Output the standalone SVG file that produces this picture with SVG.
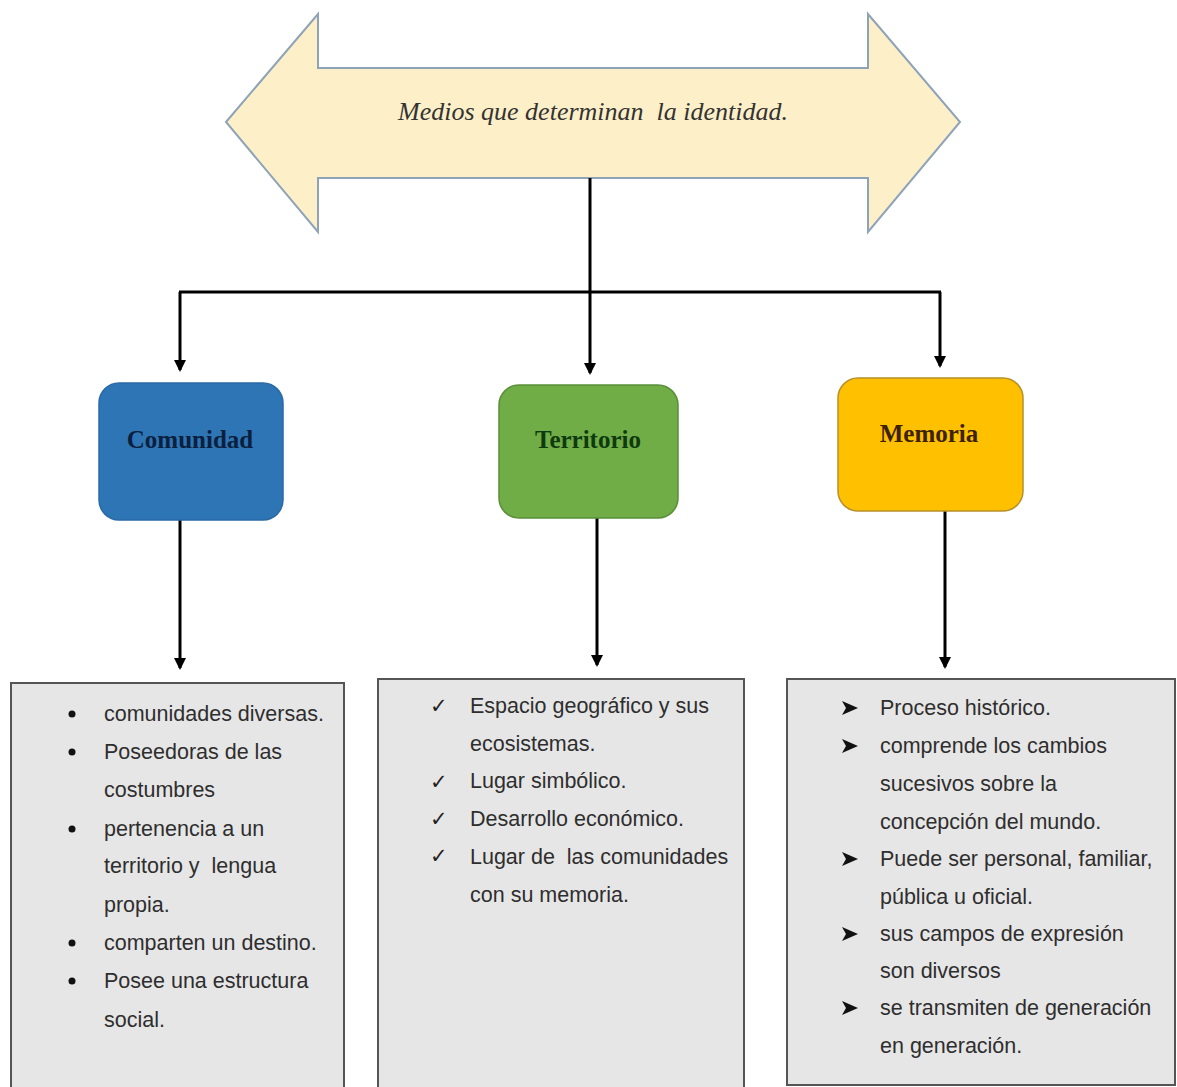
<svg xmlns="http://www.w3.org/2000/svg" width="1177" height="1087" viewBox="0 0 1177 1087">
<style>
.lst{font-family:"Liberation Sans",Arial,sans-serif;font-size:21.5px;fill:#2e2e2e;white-space:pre}
.hd{font-family:"Liberation Serif","Times New Roman",serif;font-weight:bold;font-size:25px;text-anchor:middle}
.box{fill:#e7e6e6;stroke:#555;stroke-width:2}
.con{stroke:#000;stroke-width:3;fill:none}
</style>
<defs>
<marker id="tri" markerWidth="12" markerHeight="12" refX="6" refY="10" orient="0" markerUnits="userSpaceOnUse" viewBox="0 0 12 12">
<path d="M0,0 L12,0 L6,12 Z" fill="#000"/>
</marker>
</defs>
<rect width="1177" height="1087" fill="#fff"/>
<g id="title">
<path d="M226,122 L318,14 L318,68 L868,68 L868,14 L960,122 L868,232 L868,178 L318,178 L318,232 Z" fill="#fdefc8" stroke="#8fa3b8" stroke-width="2"/>
<text x="593" y="120" text-anchor="middle" font-family="'Liberation Serif','Times New Roman',serif" font-style="italic" font-size="26" fill="#333" style="white-space:pre">Medios que determinan  la identidad.</text>
</g>
<g id="connectors">
<line class="con" x1="590" y1="178" x2="590" y2="292"/>
<line class="con" x1="179" y1="292" x2="941" y2="292"/>
<line class="con" x1="180" y1="292" x2="180" y2="370" marker-end="url(#tri)"/>
<line class="con" x1="590" y1="292" x2="590" y2="373" marker-end="url(#tri)"/>
<line class="con" x1="940" y1="292" x2="940" y2="366" marker-end="url(#tri)"/>
<line class="con" x1="180" y1="520" x2="180" y2="668" marker-end="url(#tri)"/>
<line class="con" x1="597" y1="518" x2="597" y2="665" marker-end="url(#tri)"/>
<line class="con" x1="945" y1="511" x2="945" y2="667" marker-end="url(#tri)"/>
</g>
<g id="comunidad">
<rect x="99" y="383" width="184" height="137" rx="20" fill="#2e75b6" stroke="#2a6aa6" stroke-width="1.5"/>
<text class="hd" x="190" y="448" fill="#0b1f3f">Comunidad</text>
</g>
<g id="territorio">
<rect x="499" y="385" width="179" height="133" rx="20" fill="#70ad47" stroke="#5a8f3a" stroke-width="1.5"/>
<text class="hd" x="588" y="448" fill="#0f3a0f">Territorio</text>
</g>
<g id="memoria">
<rect x="838" y="378" width="185" height="133" rx="20" fill="#ffc000" stroke="#b8902a" stroke-width="1.5"/>
<text class="hd" x="929" y="442" fill="#3d2200">Memoria</text>
</g>
<g id="lista-comunidad">
<rect class="box" x="11" y="683" width="333" height="410"/>
<g fill="#111">
<circle cx="72" cy="714" r="3.5"/><circle cx="72" cy="752" r="3.5"/><circle cx="72" cy="829" r="3.5"/><circle cx="72" cy="943" r="3.5"/><circle cx="72" cy="981" r="3.5"/>
</g>
<text class="lst" x="104" y="721">comunidades diversas.</text>
<text class="lst" x="104" y="759">Poseedoras de las</text>
<text class="lst" x="104" y="797">costumbres</text>
<text class="lst" x="104" y="836">pertenencia a un</text>
<text class="lst" x="104" y="873">territorio y  lengua</text>
<text class="lst" x="104" y="912">propia.</text>
<text class="lst" x="104" y="950">comparten un destino.</text>
<text class="lst" x="104" y="988">Posee una estructura</text>
<text class="lst" x="104" y="1027">social.</text>
</g>
<g id="lista-territorio">
<rect class="box" x="378" y="679" width="366" height="414"/>
<g font-family="'DejaVu Sans',sans-serif" font-size="21" fill="#222">
<text x="430" y="713">✓</text><text x="430" y="789">✓</text><text x="430" y="826">✓</text><text x="430" y="863">✓</text>
</g>
<text class="lst" x="470" y="713">Espacio geográfico y sus</text>
<text class="lst" x="470" y="751">ecosistemas.</text>
<text class="lst" x="470" y="788">Lugar simbólico.</text>
<text class="lst" x="470" y="826">Desarrollo económico.</text>
<text class="lst" x="470" y="864">Lugar de  las comunidades</text>
<text class="lst" x="470" y="902">con su memoria.</text>
</g>
<g id="lista-memoria">
<rect class="box" x="787" y="679" width="388" height="406"/>
<g fill="#111">
<path d="M842,701 L858,708 L842,715 L846,708 Z"/>
<path d="M842,739 L858,746 L842,753 L846,746 Z"/>
<path d="M842,852 L858,859 L842,866 L846,859 Z"/>
<path d="M842,927 L858,934 L842,941 L846,934 Z"/>
<path d="M842,1001 L858,1008 L842,1015 L846,1008 Z"/>
</g>
<text class="lst" x="880" y="715">Proceso histórico.</text>
<text class="lst" x="880" y="753">comprende los cambios</text>
<text class="lst" x="880" y="791">sucesivos sobre la</text>
<text class="lst" x="880" y="829">concepción del mundo.</text>
<text class="lst" x="880" y="866">Puede ser personal, familiar,</text>
<text class="lst" x="880" y="904">pública u oficial.</text>
<text class="lst" x="880" y="941">sus campos de expresión</text>
<text class="lst" x="880" y="978">son diversos</text>
<text class="lst" x="880" y="1015">se transmiten de generación</text>
<text class="lst" x="880" y="1053">en generación.</text>
</g>
</svg>
